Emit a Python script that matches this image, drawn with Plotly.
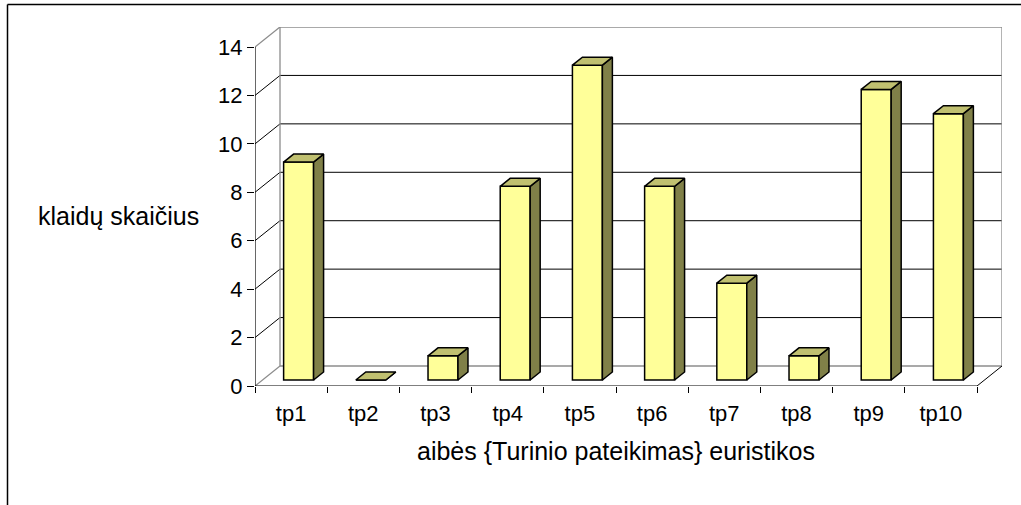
import plotly.graph_objects as go

# ---- data ----
categories = ["tp1", "tp2", "tp3", "tp4", "tp5", "tp6", "tp7", "tp8", "tp9", "tp10"]
values = [9, 0, 1, 8, 13, 8, 4, 1, 12, 11]
y_ticks = [0, 2, 4, 6, 8, 10, 12, 14]
x_title = "aibės {Turinio pateikimas} euristikos"
y_title = "klaidų skaičius"

# ---- geometry (pixels in the 1021x505 page) ----
W, H = 1021, 505
PX_L, PX_R_FRONT, PX_R_BACK = 255, 977, 1002
PY_ZERO, PY_TOP_FRONT, PY_TOP_BACK = 386, 47, 27
n = len(categories)
ymax = max(y_ticks)
ux = (PX_R_FRONT - PX_L) / n            # px per category unit
uy = (PY_ZERO - PY_TOP_FRONT) / ymax    # px per value unit
DX = (PX_R_BACK - PX_R_FRONT) / ux      # depth offset in x units
DY = (PY_TOP_FRONT - PY_TOP_BACK) / uy  # depth offset in y units
x0, x1 = -0.5, n - 0.5

FRONT = "#FFFF99"
TOP = "#C0C070"
SIDE = "#808048"
GRID = "#000000"
WALL = "#8C8C8C"
FONT = "Liberation Sans, Arial, sans-serif"

f0, fd, bw = 0.3, 0.4, 0.415   # bar depth start, bar depth, bar width

fig = go.Figure()

# front faces
xc = [i + f0 * DX for i in range(n)]
base = f0 * DY
fig.add_trace(go.Bar(
    x=xc, y=values, base=base, width=bw,
    marker=dict(color=FRONT, line=dict(color="black", width=1.5)),
    hoverinfo="skip", showlegend=False))

# top & side faces
tx, ty, sx, sy = [], [], [], []
for c, v in zip(xc, values):
    xl, xr = c - bw / 2, c + bw / 2
    yb, yt = base, base + v
    ddx, ddy = fd * DX, fd * DY
    tx += [xl, xr, xr + ddx, xl + ddx, xl, None]
    ty += [yt, yt, yt + ddy, yt + ddy, yt, None]
    sx += [xr, xr + ddx, xr + ddx, xr, xr, None]
    sy += [yb, yb + ddy, yt + ddy, yt, yb, None]
fig.add_trace(go.Scatter(x=sx, y=sy, mode="lines", fill="toself", fillcolor=SIDE,
                         line=dict(color="black", width=1.5), hoverinfo="skip", showlegend=False))
fig.add_trace(go.Scatter(x=tx, y=ty, mode="lines", fill="toself", fillcolor=TOP,
                         line=dict(color="black", width=1.5), hoverinfo="skip", showlegend=False))

# walls, floor and gridlines as shapes below the bars
shapes = []
def seg(xa, ya, xb, yb, color, width):
    shapes.append(dict(type="line", xref="x", yref="y", x0=xa, y0=ya, x1=xb, y1=yb,
                       line=dict(color=color, width=width), layer="below"))

for t in y_ticks:
    col = WALL if t in (0, ymax) else GRID
    w = 1.3 if t in (0, ymax) else 1
    seg(x0 + DX, t + DY, x1 + DX, t + DY, col, w)      # back wall
    if t != 0:
        seg(x0, t, x0 + DX, t + DY, col, w)            # left wall
seg(x0, 0, x0 + DX, DY, WALL, 1.3)                     # floor left edge
seg(x0 + DX, DY, x0 + DX, ymax + DY, WALL, 1.3)        # back wall left
seg(x1 + DX, DY, x1 + DX, ymax + DY, WALL, 1.3)        # back wall right
seg(x1, 0, x1 + DX, DY, "black", 1)                    # floor right edge
seg(x0, 0, x1, 0, "black", 1.2)                        # front x axis
seg(x0, 0, x0, ymax, "black", 1.2)                     # front y axis

# outer frame
pw = PX_R_BACK - PX_L
ph = PY_ZERO - PY_TOP_BACK
def px2paper_x(p): return (p - PX_L) / pw
def px2paper_y(p): return (PY_ZERO - p) / ph
FR_L, FR_T = 7.5, 4.5
shapes.append(dict(type="line", xref="paper", yref="paper",
                   x0=px2paper_x(FR_L), y0=px2paper_y(FR_T), x1=px2paper_x(W + 5), y1=px2paper_y(FR_T),
                   line=dict(color="black", width=1.5)))
shapes.append(dict(type="line", xref="paper", yref="paper",
                   x0=px2paper_x(FR_L), y0=px2paper_y(FR_T), x1=px2paper_x(FR_L), y1=px2paper_y(H + 5),
                   line=dict(color="black", width=1.5)))

annotations = [
    dict(text=y_title, xref="paper", yref="paper", x=px2paper_x(36), y=px2paper_y(216),
         xanchor="left", yanchor="middle", showarrow=False,
         font=dict(family=FONT, size=25, color="black")),
    dict(text=x_title, xref="x", yref="paper", x=(x0 + x1) / 2, y=px2paper_y(451),
         xanchor="center", yanchor="middle", showarrow=False,
         font=dict(family=FONT, size=25, color="black")),
]

fig.update_layout(
    width=W, height=H, autosize=False,
    margin=dict(l=PX_L, r=W - PX_R_BACK, t=PY_TOP_BACK, b=H - PY_ZERO, pad=0),
    paper_bgcolor="white", plot_bgcolor="white",
    shapes=shapes, annotations=annotations, showlegend=False,
    font=dict(family=FONT, size=22, color="black"),
    xaxis=dict(range=[x0, x1 + DX], tickvals=list(range(n)), ticktext=categories,
               ticks="outside", ticklen=8, tickcolor="rgba(0,0,0,0)",
               showgrid=False, zeroline=False, showline=False, fixedrange=True,
               tickfont=dict(family=FONT, size=22, color="black"),
               minor=dict(tickvals=[i - 0.5 for i in range(n + 1)], ticks="outside",
                          ticklen=6, tickcolor="black", tickwidth=1, showgrid=False)),
    yaxis=dict(range=[0, ymax + DY], tickvals=y_ticks, ticks="outside", ticklen=7,
               tickcolor="black", tickwidth=1, showgrid=False, zeroline=False,
               showline=False, fixedrange=True,
               tickfont=dict(family=FONT, size=22, color="black")),
)

fig.write_html("out.html", post_script="document.body.style.margin='0';",
               config={"displayModeBar": False})
